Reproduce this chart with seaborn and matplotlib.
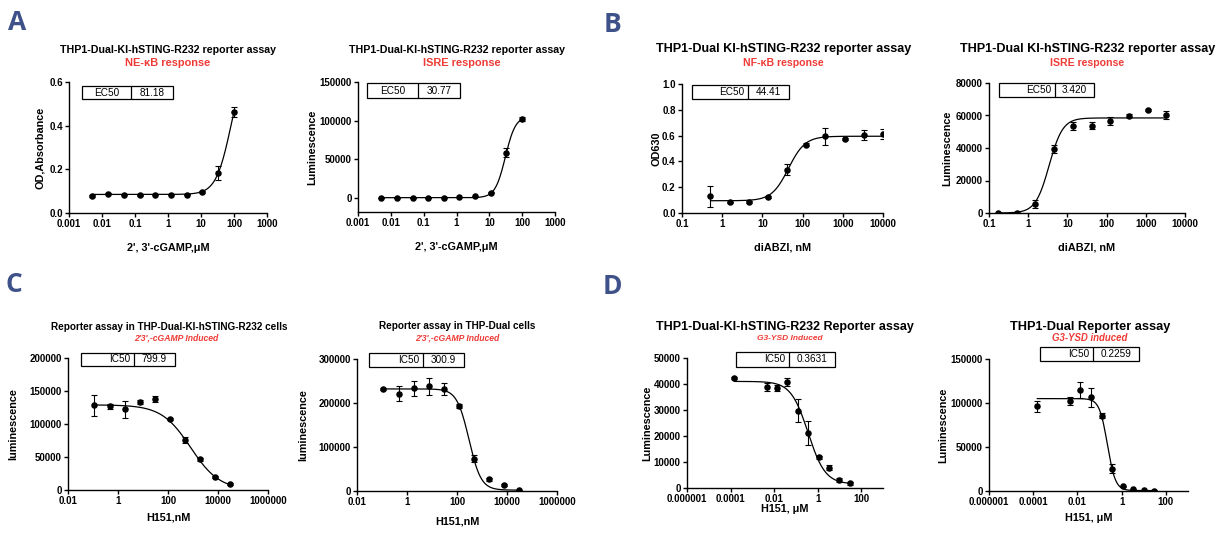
import numpy as np
import pandas as pd
import matplotlib
matplotlib.use("Agg")
import matplotlib.pyplot as plt
import matplotlib.ticker as mticker
from matplotlib.patches import Rectangle
from matplotlib.lines import Line2D
import seaborn as sns

# ---------------- data ----------------
# A: 2',3'-cGAMP (uM)
a_dose = [0.0051, 0.015, 0.046, 0.137, 0.41, 1.23, 3.7, 11.1, 33.3, 100]
a1_od = [0.079, 0.089, 0.084, 0.081, 0.084, 0.084, 0.084, 0.096, 0.183, 0.463]
a1_err = [0.004, 0.004, 0.003, 0.003, 0.003, 0.003, 0.003, 0.005, 0.030, 0.022]
a1_fit = (0.085, 0.717, 81.18, 1.9)          # bottom, top, EC50, hill
a2_lum = [300, 200, 400, 300, 500, 1300, 2200, 7000, 58700, 102000]
a2_err = [300, 300, 300, 300, 300, 400, 500, 800, 6000, 2500]
a2_fit = (500, 105800, 30.77, 2.8)

# B: diABZI (nM)
b1_dose = [0.508, 1.52, 4.57, 13.7, 41.2, 123, 370, 1111, 3333, 10000]
b1_od = [0.129, 0.083, 0.085, 0.121, 0.336, 0.530, 0.594, 0.574, 0.605, 0.612]
b1_err = [0.080, 0.005, 0.005, 0.008, 0.040, 0.010, 0.065, 0.010, 0.040, 0.040]
b1_fit = (0.095, 0.595, 44.41, 2.1)
b2_dose = [0.169, 0.508, 1.52, 4.57, 13.7, 41.2, 123, 370, 1111, 3333]
b2_lum = [0, 200, 5700, 39600, 53700, 53700, 56600, 59900, 63400, 60500]
b2_err = [300, 300, 2500, 2500, 2500, 2000, 2500, 1000, 800, 2500]
b2_fit = (0, 58500, 3.42, 2.5)

# C: H151 (nM), 2'3'-cGAMP induced
c_dose = [0.114, 0.458, 1.83, 7.32, 29.3, 117, 469, 1875, 7500, 30000]
c1_lum = [128600, 126600, 122500, 132700, 137700, 107800, 75900, 46600, 19700, 8600]
c1_err = [16000, 4000, 13000, 3000, 4000, 2000, 4000, 2000, 2000, 1500]
c1_fit = (0, 129000, 799.9, -0.75)
c2_lum = [231600, 221000, 233100, 237700, 231600, 193600, 72900, 26600, 14400, 2300]
c2_err = [3000, 17000, 18000, 20000, 14000, 4000, 8000, 3000, 2000, 1000]
c2_fit = (2000, 232000, 300.9, -1.8)

# D: H151 (uM), G3-YSD induced
d_dose = [0.00015, 0.0046, 0.0137, 0.041, 0.123, 0.37, 1.11, 3.33, 10, 30]
d1_lum = [42300, 38800, 38500, 40900, 29700, 21200, 11800, 7800, 3200, 1800]
d1_err = [400, 1500, 1000, 1500, 4500, 4500, 600, 1000, 800, 500]
d1_fit = (1500, 41000, 0.3631, -1.1)
d2_lum = [96300, 102400, 114600, 106600, 85700, 25500, 5300, 1900, 760, 400]
d2_err = [6500, 4500, 9000, 11000, 3000, 5000, 800, 500, 300, 300]
d2_fit = (500, 105000, 0.2259, -2.4)

RED = "#ef3b36"
LETTER = "#3f5189"
W, H = 1216, 535

sns.set_theme(style="ticks")
plt.rcParams["font.family"] = ["Liberation Sans", "DejaVu Sans"]
plt.rcParams["font.weight"] = "bold"
plt.rcParams["axes.labelweight"] = "bold"
plt.rcParams["text.color"] = "black"
plt.rcParams["axes.labelcolor"] = "black"
plt.rcParams["xtick.color"] = "black"
plt.rcParams["ytick.color"] = "black"

fig = plt.figure(figsize=(W / 100, H / 100), dpi=100)


def fx(x):
    return x / W


def fy(y):
    return 1 - y / H


def logfmt(v, pos):
    return np.format_float_positional(v, trim="-")


def panel(rect, dose, resp, err, fit, xlim, xticks, ylim, yticks, ylabel, xlabel,
          ylab_off, xlab_off, yfmt="{:.0f}"):
    l, r, t, b = rect
    ax = fig.add_axes([fx(l), fy(b), fx(r - l), (b - t) / H])
    # fitted 4PL curve from first to last dose
    xs = np.logspace(np.log10(dose[0]), np.log10(dose[-1]), 200)
    bottom, top, mid, hill = fit
    curve = pd.DataFrame({"x": xs, "y": bottom + (top - bottom) / (1 + (mid / xs) ** hill)})
    sns.lineplot(data=curve, x="x", y="y", ax=ax, color="black", lw=0.9)
    ax.errorbar(dose, resp, yerr=err, fmt="none", ecolor="black", elinewidth=0.8,
                capsize=2.3, capthick=0.8)
    pts = pd.DataFrame({"x": dose, "y": resp})
    sns.scatterplot(data=pts, x="x", y="y", ax=ax, color="black", s=22,
                    edgecolor="black", linewidth=0, zorder=5)
    ax.set_xscale("log")
    ax.set_xlim(*xlim)
    ax.set_ylim(*ylim)
    ax.xaxis.set_major_locator(mticker.FixedLocator(xticks))
    ax.xaxis.set_minor_locator(mticker.NullLocator())
    ax.xaxis.set_major_formatter(mticker.FuncFormatter(logfmt))
    ax.set_yticks(yticks)
    ax.yaxis.set_major_formatter(mticker.FuncFormatter(lambda v, p: yfmt.format(v)))
    for s in ["top", "right"]:
        ax.spines[s].set_visible(False)
    for s in ["left", "bottom"]:
        ax.spines[s].set_linewidth(1.0)
        ax.spines[s].set_color("black")
    ax.tick_params(length=3, width=1.0, labelsize=7, pad=1.5, colors="black")
    ax.set_xlabel(xlabel, fontsize=7.8, va="center", color="black")
    ax.set_ylabel(ylabel, fontsize=7.8, va="center", color="black")
    ax.xaxis.set_label_coords(0.5, -xlab_off / (b - t))
    ax.yaxis.set_label_coords(-ylab_off / (r - l), 0.5)
    ax.set_facecolor("none")
    return ax


def titles(x, y, title, sub, tsize, ssize, sx, sy, italic=False):
    fig.text(fx(x), fy(y), title, ha="center", va="center", fontsize=tsize,
             fontweight="bold", color="black")
    fig.text(fx(sx), fy(sy), sub, ha="center", va="center", fontsize=ssize,
             fontweight="bold", color=RED, style="italic" if italic else "normal")


def box(x0, x1, xd, y0, y1, label, value, centered=False):
    fig.add_artist(Rectangle((fx(x0), fy(y1)), fx(x1 - x0), (y1 - y0) / H,
                             transform=fig.transFigure, fill=False, ec="black", lw=0.9))
    fig.add_artist(Line2D([fx(xd), fx(xd)], [fy(y0), fy(y1)],
                          transform=fig.transFigure, color="black", lw=0.9))
    ym = fy((y0 + y1) / 2)
    if centered:
        fig.text(fx((x0 + xd) / 2), ym, label, ha="center", va="center",
                 fontsize=7.2, fontweight="normal", color="black")
    else:
        fig.text(fx(xd - 4), ym, label, ha="right", va="center",
                 fontsize=7.2, fontweight="normal", color="black")
    fig.text(fx((xd + x1) / 2), ym, value, ha="center", va="center",
             fontsize=7.2, fontweight="normal", color="black")


dec = lambda lo, hi, step=1: [10.0 ** k for k in range(lo, hi + 1, step)]

# ---------------- A ----------------
panel((69, 267, 82, 213), a_dose, a1_od, a1_err, a1_fit, (1e-3, 1e3), dec(-3, 3),
      (0, 0.6), [0, 0.2, 0.4, 0.6], "OD,Absorbance", "2', 3'-cGAMP,\u03bcM",
      29, 35, "{:.1f}")
titles(168, 50, "THP1-Dual-KI-hSTING-R232 reporter assay", "NE-\u03baB response",
       7.7, 7.9, 168, 63)
box(82, 173, 131, 86, 99, "EC50", "81.18", centered=True)

panel((358, 555, 82, 212), a_dose, a2_lum, a2_err, a2_fit, (1e-3, 1e3), dec(-3, 3),
      (-18000, 150000), [0, 50000, 100000, 150000], "Luminescence",
      "2', 3'-cGAMP,\u03bcM", 46, 35)
titles(457, 50, "THP1-Dual-KI-hSTING-R232 reporter assay", "ISRE response",
       7.7, 7.9, 462, 63)
box(367, 460, 418, 83, 98, "EC50", "30.77", centered=True)

# ---------------- B ----------------
panel((682, 883, 84, 213), b1_dose, b1_od, b1_err, b1_fit, (0.1, 1e4), dec(-1, 4),
      (0, 1.0), [0, 0.2, 0.4, 0.6, 0.8, 1.0], "OD630", "diABZI, nM", 25, 34, "{:.1f}")
titles(784, 49, "THP1-Dual KI-hSTING-R232 reporter assay", "NF-\u03baB response",
       9.1, 7.6, 783, 63)
box(692, 789, 748, 85, 99, "EC50", "44.41")

panel((989, 1185, 83, 213), b2_dose, b2_lum, b2_err, b2_fit, (0.1, 1e4), dec(-1, 4),
      (0, 80000), [0, 20000, 40000, 60000, 80000], "Luminescence", "diABZI, nM",
      42, 34)
titles(1088, 49, "THP1-Dual KI-hSTING-R232 reporter assay", "ISRE response",
       9.1, 7.6, 1087, 63)
box(999, 1094, 1055, 83, 97, "EC50", "3.420")

# ---------------- C ----------------
panel((68, 268, 358, 490), c_dose, c1_lum, c1_err, c1_fit, (0.01, 1e6), dec(-2, 6, 2),
      (0, 200000), [0, 50000, 100000, 150000, 200000], "luminescence", "H151,nM",
      55, 28)
titles(169, 327, "Reporter assay in THP-Dual-KI-hSTING-R232 cells",
       "2'3',-cGAMP Induced", 7.2, 6.2, 176, 338, italic=True)
box(81, 175, 134, 353, 366, "IC50", "799.9")

panel((357, 557, 359, 491), c_dose, c2_lum, c2_err, c2_fit, (0.01, 1e6), dec(-2, 6, 2),
      (0, 300000), [0, 100000, 200000, 300000], "luminescence", "H151,nM", 54, 30)
titles(457, 326, "Reporter assay in THP-Dual cells", "2'3',-cGAMP Induced",
       7.2, 6.2, 457, 338, italic=True)
box(369, 464, 423, 353, 367, "IC50", "300.9")

# ---------------- D ----------------
panel((687, 883, 358, 488), d_dose, d1_lum, d1_err, d1_fit, (1e-6, 1e3), dec(-6, 2, 2),
      (0, 50000), [0, 10000, 20000, 30000, 40000, 50000], "Luminescence",
      "H151, \u03bcM", 40, 21)
titles(785, 327, "THP1-Dual-KI-hSTING-R232 Reporter assay", "G3-YSD Induced",
       9.0, 6.0, 790, 338, italic=True)
box(736, 835, 789, 352, 367, "IC50", "0.3631")

panel((989, 1188, 359, 491), d_dose, d2_lum, d2_err, d2_fit, (1e-6, 1e3), dec(-6, 2, 2),
      (0, 150000), [0, 50000, 100000, 150000], "Luminescence", "H151, \u03bcM", 46, 27)
titles(1090, 327, "THP1-Dual Reporter assay", "G3-YSD induced", 9.2, 6.9, 1090, 338,
       italic=True)
box(1040, 1139, 1093, 347, 361, "IC50", "0.2259")

# panel letters
for letter, (x, y) in zip("ABCD", [(17, 22), (612, 24), (14, 285), (612, 286)]):
    fig.text(fx(x), fy(y), letter, ha="center", va="center", fontsize=19,
             fontweight="bold", color=LETTER, family=["Open Sans", "DejaVu Sans"])

fig.savefig("out.png", dpi=100, facecolor="white")
